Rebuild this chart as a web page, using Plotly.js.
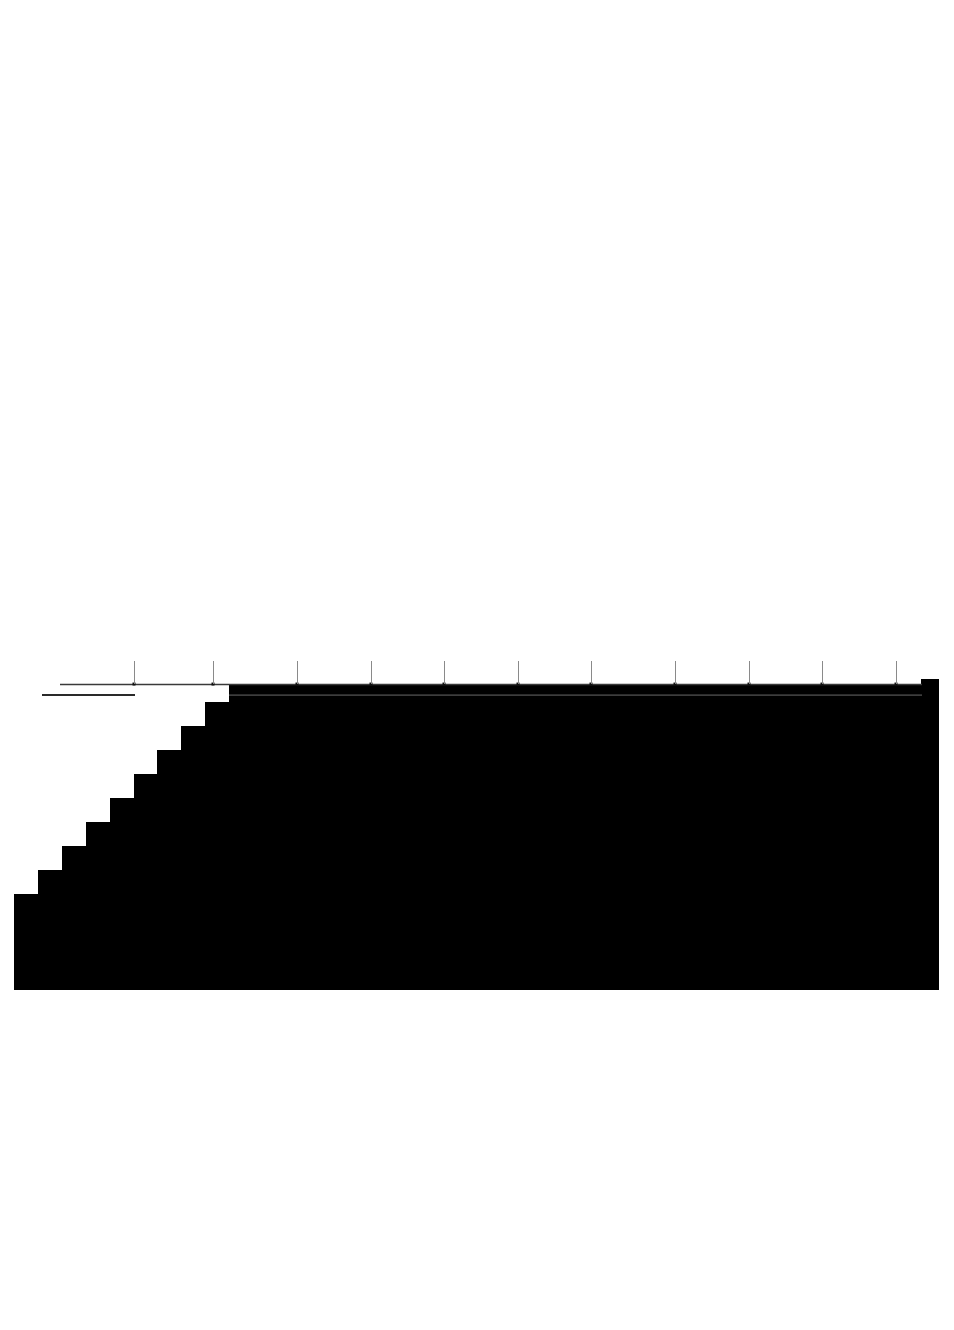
<!DOCTYPE html>
<html>
<head>
<meta charset="utf-8">
<script src="https://cdn.plot.ly/plotly-3.0.1.min.js"></script>
<style>html,body{margin:0;padding:0;background:#fff;}#chart{width:954px;height:1330px;}</style>
</head>
<body>
<div id="chart"></div>
<script>
// Row values (top row first): start of each black band and its end on the shared scale
const rowIndex = [11, 10, 9, 8, 7, 6, 5, 4, 3, 2, 1, 0];
const rowStart = [191, 167, 143, 120, 96, 72, 48, 24, 0, 0, 0, 0];
const rowEnd = [925, 925, 925, 925, 925, 925, 925, 925, 925, 925, 925, 925];
// Top (partly covered) row and the taller right-hand edge block
const topRowStart = [215];
const topRowEnd = [907];
const edgeStart = [907];
const edgeEnd = [925];
// Top axis tick positions (no labels are shown in the reference)
const tickPositions = [120, 199, 283, 357, 430, 504, 577, 661, 735, 808, 882];
const tickLabels = ['', '', '', '', '', '', '', '', '', '', ''];
// Guide lines
const axisLineX = [46, 908];
const axisLineY = [12.73, 12.73];
const guideDarkX = [28, 121];
const guideDarkY = [12.29, 12.29];
const guideLightX = [215, 908];
const guideLightY = [12.29, 12.29];

const bars = {
  type: 'bar', orientation: 'h',
  y: rowIndex.map(v => v + 0.5),
  base: rowStart,
  x: rowEnd.map((e, i) => e - rowStart[i]),
  width: 1,
  marker: {color: '#000000', line: {width: 0}},
  hoverinfo: 'skip', showlegend: false
};
const topRow = {
  type: 'bar', orientation: 'h',
  y: [12.375], base: topRowStart,
  x: topRowEnd.map((e, i) => e - topRowStart[i]),
  width: 0.75,
  marker: {color: '#000000', line: {width: 0}},
  hoverinfo: 'skip', showlegend: false
};
const edge = {
  type: 'bar', orientation: 'h',
  y: [12.48], base: edgeStart,
  x: edgeEnd.map((e, i) => e - edgeStart[i]),
  width: 0.96,
  marker: {color: '#000000', line: {width: 0}},
  hoverinfo: 'skip', showlegend: false
};
const axisLine = {
  type: 'scatter', mode: 'lines', x: axisLineX, y: axisLineY,
  line: {color: '#3a3a3a', width: 1.5}, cliponaxis: false, showlegend: false, hoverinfo: 'skip'
};
const guideDark = {
  type: 'scatter', mode: 'lines', x: guideDarkX, y: guideDarkY,
  line: {color: '#2a2a2a', width: 2}, cliponaxis: false, showlegend: false, hoverinfo: 'skip'
};
const guideLight = {
  type: 'scatter', mode: 'lines', x: guideLightX, y: guideLightY,
  line: {color: '#6a6a6a', width: 1}, cliponaxis: false, showlegend: false, hoverinfo: 'skip'
};
const tickDots = {
  type: 'scatter', mode: 'markers', x: tickPositions, y: tickPositions.map(() => 12.75),
  marker: {symbol: 'square', size: 3, color: '#111111'}, cliponaxis: false, showlegend: false, hoverinfo: 'skip'
};

const layout = {
  width: 954, height: 1330,
  margin: {l: 14, r: 15, t: 679, b: 340, pad: 0, autoexpand: false},
  paper_bgcolor: '#ffffff', plot_bgcolor: '#ffffff',
  bargap: 0, barmode: 'overlay',
  showlegend: false,
  xaxis: {
    range: [0, 925], side: 'top', anchor: 'free', position: 0.984,
    showgrid: false, zeroline: false, showline: false,
    ticks: 'outside', ticklen: 23, tickwidth: 1, tickcolor: '#8a8a8a',
    tickmode: 'array', tickvals: tickPositions, ticktext: tickLabels,
    showticklabels: false, fixedrange: true
  },
  yaxis: {
    range: [0, 12.96], showgrid: false, zeroline: false, showline: false,
    showticklabels: false, ticks: '', fixedrange: true
  }
};

Plotly.newPlot('chart', [bars, topRow, edge, axisLine, guideDark, guideLight, tickDots], layout, {staticPlot: true, displayModeBar: false});
</script>
</body>
</html>
